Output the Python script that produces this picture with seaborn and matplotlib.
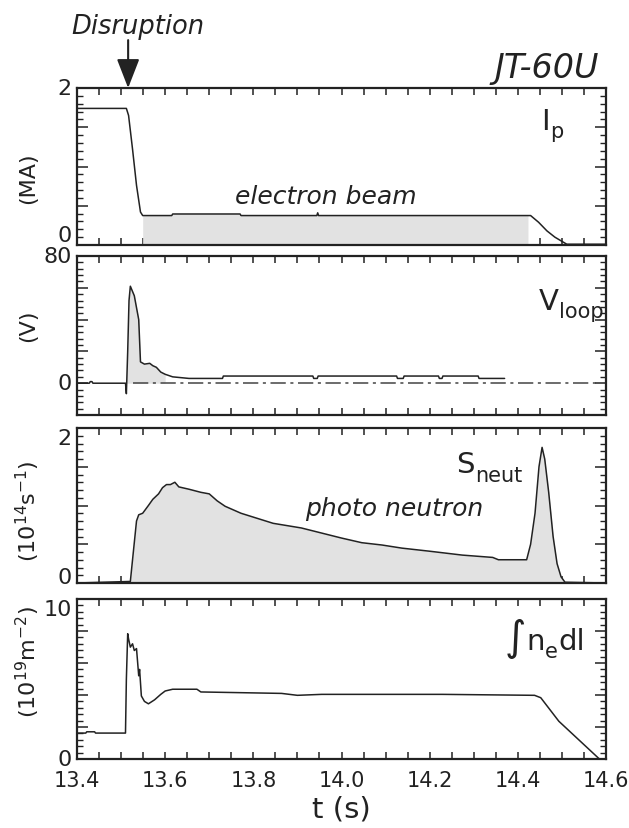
import numpy as np
import pandas as pd
import matplotlib
matplotlib.use("Agg")
import matplotlib.pyplot as plt
import seaborn as sns
from matplotlib.ticker import MultipleLocator, FixedLocator, FixedFormatter

# ---------------- data ----------------
t_ip = [13.40, 13.512, 13.517, 13.526, 13.535, 13.544, 13.549, 13.615, 13.617,
        13.770, 13.772, 13.944, 13.946, 13.948, 14.423, 14.429, 14.447, 14.466,
        14.484, 14.502, 14.511, 14.60]
ip = [1.74, 1.74, 1.65, 1.22, 0.76, 0.42, 0.375, 0.375, 0.395,
      0.395, 0.375, 0.375, 0.41, 0.375, 0.375, 0.375, 0.29, 0.18,
      0.10, 0.04, 0.01, 0.01]
ip_fill_range = [13.549, 14.423]

t_v = [13.40, 13.428, 13.430, 13.434, 13.436, 13.510, 13.512, 13.515, 13.518,
       13.521, 13.530, 13.540, 13.544, 13.553, 13.565, 13.572, 13.580, 13.590,
       13.600, 13.617, 13.654, 13.730, 13.732, 13.935, 13.937, 13.945, 13.947,
       14.125, 14.127, 14.140, 14.142, 14.220, 14.222, 14.228, 14.230, 14.310,
       14.312, 14.370]
vloop = [0.0, 0.0, 1.0, 1.0, 0.0, 0.0, -6.6, 20.0, 52.0,
         61.0, 55.0, 40.0, 13.4, 12.0, 12.5, 11.0, 10.0, 7.0,
         5.6, 4.0, 3.0, 3.0, 4.5, 4.5, 3.0, 3.0, 4.5,
         4.5, 3.0, 3.0, 4.5, 4.5, 3.0, 3.0, 4.5, 4.5,
         3.0, 3.0]
v_fill_range = [13.512, 13.600]
v_zero_range = [13.526, 14.585]

t_s = [13.40, 13.521, 13.526, 13.535, 13.540, 13.549, 13.562, 13.572, 13.585,
       13.594, 13.603, 13.612, 13.622, 13.631, 13.654, 13.681, 13.700, 13.718,
       13.736, 13.772, 13.800, 13.845, 13.909, 14.000, 14.046, 14.092, 14.137,
       14.200, 14.274, 14.343, 14.356, 14.420, 14.429, 14.439, 14.448, 14.455,
       14.461, 14.470, 14.480, 14.489, 14.498, 14.507, 14.60]
sneut = [0.0, 0.02, 0.30, 0.80, 0.88, 0.90, 1.00, 1.08, 1.15,
         1.23, 1.27, 1.27, 1.30, 1.24, 1.21, 1.17, 1.15, 1.06,
         0.99, 0.90, 0.85, 0.77, 0.71, 0.58, 0.52, 0.49, 0.45,
         0.41, 0.36, 0.33, 0.30, 0.30, 0.50, 0.90, 1.50, 1.75,
         1.60, 1.17, 0.60, 0.25, 0.08, 0.01, 0.0]

t_n = [13.40, 13.420, 13.422, 13.440, 13.442, 13.510, 13.512, 13.515, 13.517,
       13.521, 13.526, 13.530, 13.535, 13.540, 13.542, 13.546, 13.553, 13.562,
       13.576, 13.590, 13.600, 13.617, 13.672, 13.681, 13.864, 13.900, 13.955,
       14.229, 14.438, 14.452, 14.493, 14.585, 14.60]
ne = [1.62, 1.62, 1.70, 1.70, 1.62, 1.62, 5.00, 7.83, 7.50,
      6.99, 7.20, 6.78, 6.90, 5.20, 5.60, 3.94, 3.60, 3.45,
      3.70, 4.04, 4.25, 4.36, 4.36, 4.19, 4.10, 3.98, 4.04,
      4.04, 3.98, 3.83, 2.36, 0.00, 0.00]

x_ticks = [13.4, 13.6, 13.8, 14.0, 14.2, 14.4, 14.6]
x_ticklabels = ["13.4", "13.6", "13.8", "14.0", "14.2", "14.4", "14.6"]
disruption_t = 13.516

# ---------------- style ----------------
sns.set_theme(style="ticks")
plt.rcParams["font.family"] = ["DejaVu Sans"]
plt.rcParams["mathtext.fontset"] = "dejavusans"
INK = "#222222"
FILL = "#e2e2e2"
FW, FH, DPI = 629, 829, 100

fig = plt.figure(figsize=(FW / DPI, FH / DPI), dpi=DPI)
L, W = 77 / FW, 529 / FW
def box(top, bot):
    return [L, 1 - bot / FH, W, (bot - top) / FH]
ax1 = fig.add_axes(box(89, 246))
ax2 = fig.add_axes(box(257, 416))
ax3 = fig.add_axes(box(429, 584))
ax4 = fig.add_axes(box(600, 760))
axes = [ax1, ax2, ax3, ax4]

def style_axis(ax, ylim, yticks, ylabels, yminor, vas):
    ax.set_xlim(13.4, 14.6)
    ax.set_ylim(*ylim)
    ax.xaxis.set_major_locator(FixedLocator(x_ticks))
    ax.xaxis.set_minor_locator(MultipleLocator(0.05))
    ax.yaxis.set_major_locator(FixedLocator(yticks))
    ax.yaxis.set_major_formatter(FixedFormatter(ylabels))
    ax.yaxis.set_minor_locator(MultipleLocator(yminor))
    ax.tick_params(which="both", direction="in", top=True, right=True,
                   color=INK, labelcolor=INK)
    ax.tick_params(axis="x", which="both", length=5, width=1.1, labelsize=15)
    ax.tick_params(axis="y", which="major", length=8, width=1.1, pad=4, labelsize=16)
    ax.tick_params(axis="y", which="minor", length=4, width=1.0)
    for s in ax.spines.values():
        s.set_linewidth(1.6)
        s.set_color(INK)
        s.set_visible(True)
    ax.set_facecolor("white")
    ax.set_xlabel("")
    ax.set_ylabel("")
    for lab, va in zip(ax.get_yticklabels(), vas):
        lab.set_verticalalignment(va)

# Panel 1: Ip
df1 = pd.DataFrame({"t": t_ip, "v": ip})
m1 = (df1.t >= ip_fill_range[0]) & (df1.t <= ip_fill_range[1])
ax1.fill_between(df1.t, 0, df1.v, where=m1, color=FILL, lw=0, interpolate=False)
sns.lineplot(data=df1, x="t", y="v", ax=ax1, color=INK, lw=1.1, sort=False, estimator=None)
style_axis(ax1, (0, 2), [0, 0.5, 1.0, 1.5, 2.0], ["0", "", "", "", "2"], 0.1,
           ["bottom", "center", "center", "center", "center"])

# Panel 2: Vloop
df2 = pd.DataFrame({"t": t_v, "v": vloop})
m2 = (df2.t >= v_fill_range[0]) & (df2.t <= v_fill_range[1])
ax2.fill_between(df2.t, 0, df2.v.clip(lower=0), where=m2, color=FILL, lw=0)
ax2.plot(v_zero_range, [0, 0], color="#444444", lw=1.1, dashes=[10, 3, 2, 3])
sns.lineplot(data=df2, x="t", y="v", ax=ax2, color=INK, lw=1.1, sort=False, estimator=None)
style_axis(ax2, (-20, 80), [-20, 0, 20, 40, 60, 80], ["", "0", "", "", "", "80"], 4,
           ["center"] * 6)

# Panel 3: Sneut
df3 = pd.DataFrame({"t": t_s, "v": sneut})
ax3.fill_between(df3.t, 0, df3.v, color=FILL, lw=0)
sns.lineplot(data=df3, x="t", y="v", ax=ax3, color=INK, lw=1.1, sort=False, estimator=None)
style_axis(ax3, (0, 2), [0, 0.5, 1.0, 1.5, 2.0], ["0", "", "", "", "2"], 0.1,
           ["baseline", "center", "center", "center", "top"])

# Panel 4: line density
df4 = pd.DataFrame({"t": t_n, "v": ne})
sns.lineplot(data=df4, x="t", y="v", ax=ax4, color=INK, lw=1.1, sort=False, estimator=None)
style_axis(ax4, (0, 10), [0, 2, 4, 6, 8, 10], ["0", "", "", "", "", "10"], 0.4,
           ["center", "center", "center", "center", "center", "top"])

for ax in axes[:3]:
    ax.tick_params(axis="x", labelbottom=False)
ax4.set_xticklabels(x_ticklabels)
ax4.tick_params(axis="x", pad=8)
ax4.set_xlabel("t (s)", fontsize=21, color=INK, labelpad=3)

# y labels
ylab = [(ax1, "(MA)", 0.43), (ax2, "(V)", 0.57),
        (ax3, "(10$^{14}$s$^{-1}$)", 0.47), (ax4, "(10$^{19}$m$^{-2}$)", 0.61)]
for ax, txt, yy in ylab:
    ax.set_ylabel(txt, fontsize=16, color=INK, va="center")
    ax.yaxis.set_label_coords(-0.093, yy)

# panel labels built from main letters and larger-than-mathtext subscripts
renderer = fig.canvas.get_renderer()
def chain(ax, x, y, pieces):
    x0, y0 = ax.transAxes.transform((x, y))
    cur = x0
    for txt, size, dy in pieces:
        t = fig.text(cur / FW, (y0 + dy * DPI / 72) / FH, txt, fontsize=size,
                     color=INK, ha="left", va="baseline")
        cur = t.get_window_extent(renderer).x1 + 0.5

chain(ax1, 0.877, 0.74, [("I", 21, 0), ("p", 15, -6)])
chain(ax2, 0.873, 0.667, [("V", 21, 0), ("loop", 15, -6)])
chain(ax3, 0.717, 0.715, [("S", 21, 0), ("neut", 15, -6)])
chain(ax4, 0.808, 0.69, [("$\\int$", 21, 0), ("n", 21, 0), ("e", 15, -6), ("dl", 21, 0)])

# annotations
ax1.text(0.47, 0.27, "electron beam", transform=ax1.transAxes, fontsize=18, style="italic",
         color=INK, ha="center", va="baseline")
ax3.text(0.60, 0.437, "photo neutron", transform=ax3.transAxes, fontsize=18, style="italic",
         color=INK, ha="center", va="baseline")
fig.text(137.5 / FW, 1 - 34 / FH, "Disruption", fontsize=18.5, style="italic",
         color=INK, ha="center", va="baseline")
fig.text(599 / FW, 1 - 78 / FH, "JT-60U", fontsize=24, style="italic",
         color=INK, ha="right", va="baseline")
ax1.annotate("", xy=(disruption_t, 2.0), xytext=(disruption_t, 2.61),
             xycoords="data", textcoords="data", annotation_clip=False,
             arrowprops=dict(arrowstyle="-|>,head_length=0.9,head_width=0.35",
                             mutation_scale=20, color=INK, lw=1.5,
                             shrinkA=0, shrinkB=0))

fig.savefig("out.png", dpi=DPI, facecolor="white")
